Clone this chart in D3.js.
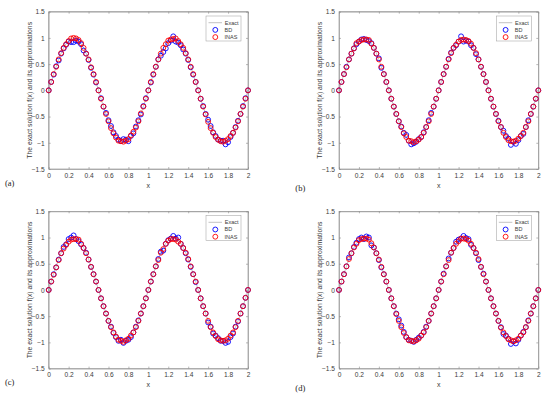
<!DOCTYPE html>
<html>
<head>
<meta charset="utf-8">
<script src="https://cdn.jsdelivr.net/npm/d3@7"></script>
<style>
	body { margin: 0; background: #fff; }
	text { font-family: "Liberation Sans", Arial, sans-serif; }
</style>
</head>
<body>
<div id="chart"></div>
<script>

// x grid shared by every panel
var xs = [0.000,
	0.025,0.050,0.075,0.100,0.125,0.150,0.175,0.200,0.225,0.250,0.275,0.300,0.325,0.350,0.375,0.400,0.425,0.450,0.475,0.500,
	0.525,0.550,0.575,0.600,0.625,0.650,0.675,0.700,0.725,0.750,0.775,0.800,0.825,0.850,0.875,0.900,0.925,0.950,0.975,1.000,
	1.025,1.050,1.075,1.100,1.125,1.150,1.175,1.200,1.225,1.250,1.275,1.300,1.325,1.350,1.375,1.400,1.425,1.450,1.475,1.500,
	1.525,1.550,1.575,1.600,1.625,1.650,1.675,1.700,1.725,1.750,1.775,1.800,1.825,1.850,1.875,1.900,1.925,1.950,1.975,2.000];

var exact = [0.00,
	0.16,0.31,0.45,0.59,0.71,0.81,0.89,0.95,0.99,1.00,0.99,0.95,0.89,0.81,0.71,0.59,0.45,0.31,0.16,0.00,
	-0.16,-0.31,-0.45,-0.59,-0.71,-0.81,-0.89,-0.95,-0.99,-1.00,-0.99,-0.95,-0.89,-0.81,-0.71,-0.59,-0.45,-0.31,-0.16,0.00,
	0.16,0.31,0.45,0.59,0.71,0.81,0.89,0.95,0.99,1.00,0.99,0.95,0.89,0.81,0.71,0.59,0.45,0.31,0.16,0.00,
	-0.16,-0.31,-0.45,-0.59,-0.71,-0.81,-0.89,-0.95,-0.99,-1.00,-0.99,-0.95,-0.89,-0.81,-0.71,-0.59,-0.45,-0.31,-0.16,0.00];

// panel (a)
var bd_a = [0.00,
	0.16,0.30,0.46,0.57,0.70,0.80,0.87,0.93,0.92,0.92,0.95,0.93,0.88,0.76,0.70,0.58,0.43,0.30,0.15,0.00,
	-0.15,-0.31,-0.43,-0.57,-0.68,-0.80,-0.87,-0.94,-0.97,-0.93,-0.94,-0.97,-0.87,-0.82,-0.69,-0.57,-0.46,-0.30,-0.15,0.00,
	0.15,0.30,0.45,0.59,0.66,0.73,0.80,0.90,0.95,1.03,0.93,0.91,0.86,0.78,0.70,0.58,0.44,0.30,0.16,0.00,
	-0.16,-0.30,-0.45,-0.56,-0.68,-0.80,-0.87,-0.94,-0.96,-0.96,-1.03,-0.99,-0.89,-0.81,-0.70,-0.58,-0.45,-0.30,-0.15,0.00];
var inas_a = [0.00,
	0.16,0.31,0.45,0.59,0.71,0.81,0.88,0.94,0.99,1.00,0.99,0.96,0.90,0.81,0.70,0.59,0.44,0.31,0.16,0.00,
	-0.16,-0.31,-0.45,-0.59,-0.72,-0.82,-0.90,-0.96,-0.97,-0.98,-0.96,-0.93,-0.86,-0.79,-0.71,-0.59,-0.44,-0.31,-0.16,0.00,
	0.16,0.31,0.45,0.59,0.70,0.81,0.88,0.95,0.97,0.98,0.99,0.94,0.88,0.81,0.71,0.59,0.45,0.31,0.16,0.00,
	-0.16,-0.31,-0.46,-0.60,-0.72,-0.81,-0.89,-0.94,-0.97,-0.98,-0.96,-0.93,-0.87,-0.81,-0.71,-0.59,-0.45,-0.31,-0.16,0.00];

// panel (b)
var bd_b = [0.00,
	0.16,0.31,0.45,0.59,0.70,0.80,0.88,0.93,0.97,0.98,0.96,0.94,0.90,0.81,0.70,0.61,0.43,0.31,0.16,0.00,
	-0.16,-0.31,-0.45,-0.59,-0.69,-0.81,-0.85,-0.96,-1.03,-1.01,-0.98,-0.93,-0.89,-0.80,-0.70,-0.57,-0.43,-0.31,-0.16,0.00,
	0.16,0.31,0.45,0.60,0.72,0.81,0.86,0.93,1.03,0.93,0.95,0.93,0.86,0.81,0.69,0.59,0.45,0.31,0.16,0.00,
	-0.16,-0.31,-0.45,-0.58,-0.70,-0.77,-0.87,-0.92,-1.04,-0.98,-1.02,-0.95,-0.87,-0.83,-0.70,-0.57,-0.45,-0.31,-0.16,0.00];
var inas_b = [0.00,
	0.16,0.31,0.44,0.59,0.70,0.80,0.90,0.93,0.96,0.97,0.97,0.96,0.89,0.81,0.70,0.59,0.45,0.31,0.16,0.00,
	-0.16,-0.31,-0.45,-0.59,-0.70,-0.82,-0.89,-0.96,-0.97,-0.99,-0.97,-0.94,-0.89,-0.81,-0.70,-0.59,-0.45,-0.31,-0.16,0.00,
	0.16,0.31,0.45,0.59,0.71,0.81,0.87,0.93,0.96,0.97,0.96,0.94,0.89,0.81,0.71,0.59,0.45,0.31,0.16,0.00,
	-0.16,-0.31,-0.45,-0.59,-0.70,-0.81,-0.89,-0.95,-0.97,-0.98,-0.96,-0.92,-0.87,-0.81,-0.70,-0.59,-0.45,-0.31,-0.16,0.00];

// panel (c)
var bd_c = [0.00,
	0.16,0.30,0.43,0.58,0.70,0.82,0.87,0.97,1.00,1.04,0.97,0.93,0.87,0.80,0.71,0.58,0.44,0.30,0.16,0.00,
	-0.16,-0.31,-0.45,-0.59,-0.70,-0.82,-0.90,-0.97,-0.95,-1.01,-0.97,-0.95,-0.90,-0.81,-0.70,-0.58,-0.45,-0.31,-0.16,0.00,
	0.16,0.30,0.45,0.59,0.73,0.75,0.88,0.95,0.98,1.03,0.98,1.00,0.88,0.80,0.70,0.58,0.44,0.30,0.15,0.00,
	-0.16,-0.31,-0.45,-0.62,-0.70,-0.83,-0.87,-0.92,-0.97,-0.97,-1.01,-0.99,-0.90,-0.83,-0.70,-0.60,-0.45,-0.31,-0.15,0.00];
var inas_c = [0.00,
	0.16,0.29,0.43,0.57,0.70,0.79,0.86,0.92,0.96,0.97,0.97,0.96,0.88,0.80,0.70,0.58,0.44,0.30,0.16,0.00,
	-0.16,-0.31,-0.45,-0.59,-0.71,-0.81,-0.89,-0.95,-0.97,-0.99,-0.96,-0.93,-0.87,-0.81,-0.71,-0.59,-0.45,-0.31,-0.16,0.00,
	0.16,0.30,0.45,0.57,0.71,0.78,0.88,0.94,0.97,0.97,0.96,0.92,0.88,0.80,0.71,0.59,0.45,0.30,0.16,0.00,
	-0.16,-0.31,-0.45,-0.59,-0.71,-0.81,-0.88,-0.94,-0.96,-0.97,-0.96,-0.93,-0.87,-0.81,-0.71,-0.59,-0.45,-0.31,-0.15,0.00];

// panel (d)
var bd_d = [0.00,
	0.16,0.30,0.45,0.62,0.70,0.82,0.90,0.97,1.00,0.97,1.02,1.00,0.85,0.81,0.70,0.57,0.43,0.30,0.16,0.00,
	-0.16,-0.31,-0.45,-0.56,-0.68,-0.80,-0.90,-0.95,-0.97,-0.99,-0.95,-0.91,-0.87,-0.80,-0.70,-0.59,-0.45,-0.31,-0.16,0.00,
	0.16,0.31,0.45,0.60,0.71,0.80,0.92,0.96,0.98,1.03,0.99,0.97,0.86,0.80,0.70,0.57,0.44,0.31,0.16,0.00,
	-0.16,-0.31,-0.45,-0.59,-0.71,-0.84,-0.87,-0.93,-1.03,-0.98,-1.02,-0.95,-0.87,-0.80,-0.71,-0.58,-0.45,-0.31,-0.16,0.00];
var inas_d = [0.00,
	0.16,0.30,0.45,0.59,0.70,0.81,0.88,0.95,0.97,0.98,0.98,0.96,0.89,0.81,0.70,0.58,0.44,0.30,0.16,0.00,
	-0.16,-0.31,-0.46,-0.59,-0.71,-0.82,-0.90,-0.96,-0.97,-0.98,-0.96,-0.93,-0.87,-0.81,-0.71,-0.59,-0.45,-0.31,-0.16,0.00,
	0.16,0.30,0.45,0.57,0.71,0.80,0.88,0.93,0.98,0.98,0.97,0.94,0.88,0.80,0.71,0.59,0.44,0.30,0.16,0.00,
	-0.16,-0.31,-0.45,-0.59,-0.72,-0.81,-0.88,-0.94,-0.96,-0.98,-0.96,-0.93,-0.87,-0.81,-0.71,-0.59,-0.45,-0.31,-0.16,0.00];

var xTicks = [0, 0.2, 0.4, 0.6, 0.8, 1, 1.2, 1.4, 1.6, 1.8, 2];
var yTicks = [-1.5, -1, -0.5, 0, 0.5, 1, 1.5];
var legendNames = ["Exact", "BD", "INAS"];
var panelLabels = ["(a)", "(b)", "(c)", "(d)"];

var panels = [
	{ label: panelLabels[0], bd: bd_a, inas: inas_a, ox: 0,     oy: 0,     ly: 186 },
	{ label: panelLabels[1], bd: bd_b, inas: inas_b, ox: 290.3, oy: 0,     ly: 191 },
	{ label: panelLabels[2], bd: bd_c, inas: inas_c, ox: 0,     oy: 199.6, ly: 185.5 },
	{ label: panelLabels[3], bd: bd_d, inas: inas_d, ox: 290.3, oy: 199.6, ly: 191.5 }
];

var W = 550, H = 398;
var plotLeft = 48.7, plotRight = 248, plotTop = 11.7, plotBottom = 169;
var axisColor = "#8a8a8a", textColor = "#3a3a3a";
var markerR = 2.45;

var svg = d3.select("#chart").append("svg")
	.attr("width", W)
	.attr("height", H);

var xScale = d3.scaleLinear().domain([0, 2]).range([plotLeft, plotRight]);
var yScale = d3.scaleLinear().domain([-1.5, 1.5]).range([plotBottom, plotTop]);

var exactLine = d3.line()
	.x(function(d, i) { return xScale(xs[i]); })
	.y(function(d) { return yScale(d); });

function drawPanel(p) {
	var g = svg.append("g").attr("transform", "translate(" + p.ox + "," + p.oy + ")");

	// box
	g.append("rect")
		.attr("x", plotLeft).attr("y", plotTop)
		.attr("width", plotRight - plotLeft).attr("height", plotBottom - plotTop)
		.attr("fill", "none").attr("stroke", axisColor).attr("stroke-width", 0.6);

	// axes, MATLAB style ticks pointing inwards
	var xAxis = d3.axisBottom(xScale).tickValues(xTicks).tickSizeInner(-2).tickSizeOuter(0).tickPadding(4)
		.tickFormat(d3.format("~g"));
	var yAxis = d3.axisLeft(yScale).tickValues(yTicks).tickSizeInner(-2).tickSizeOuter(0).tickPadding(4)
		.tickFormat(d3.format("~g"));

	var gx = g.append("g").attr("transform", "translate(0," + plotBottom + ")").call(xAxis);
	var gy = g.append("g").attr("transform", "translate(" + plotLeft + ",0)").call(yAxis);
	// mirrored ticks on top and right
	var gx2 = g.append("g").attr("transform", "translate(0," + plotTop + ")")
		.call(d3.axisTop(xScale).tickValues(xTicks).tickSizeInner(-2).tickSizeOuter(0).tickFormat(""));
	var gy2 = g.append("g").attr("transform", "translate(" + plotRight + ",0)")
		.call(d3.axisRight(yScale).tickValues(yTicks).tickSizeInner(-2).tickSizeOuter(0).tickFormat(""));

	[gx, gy, gx2, gy2].forEach(function(a) {
		a.select(".domain").attr("stroke", axisColor).attr("stroke-width", 0.6);
		a.selectAll(".tick line").attr("stroke", axisColor).attr("stroke-width", 0.6);
		a.selectAll(".tick text").attr("fill", textColor)
			.style("font-family", "'Liberation Sans', Arial, sans-serif").style("font-size", "6.6px");
	});
	gy.selectAll(".tick text").attr("dy", "0.34em");

	// axis titles
	g.append("text")
		.attr("x", (plotLeft + plotRight) / 2).attr("y", 187.5)
		.attr("text-anchor", "middle").attr("fill", textColor).style("font-size", "7px")
		.text("x");
	g.append("text")
		.attr("transform", "translate(32," + ((plotTop + plotBottom) / 2) + ") rotate(-90)")
		.attr("text-anchor", "middle").attr("fill", textColor).style("font-size", "6.8px")
		.text("The exact solution f(x) and its approximations");

	// panel label
	g.append("text")
		.attr("x", 5).attr("y", p.ly)
		.attr("fill", "#222").style("font-family", "'Liberation Serif', 'Times New Roman', serif").style("font-size", "8.5px")
		.text(p.label);

	// exact curve
	g.append("path")
		.datum(exact)
		.attr("d", exactLine)
		.attr("fill", "none").attr("stroke", "#9a9a9a").attr("stroke-width", 0.6);

	// BD markers
	g.append("g").selectAll("circle")
		.data(p.bd)
		.enter()
		.append("circle")
		.attr("cx", function(d, i) { return xScale(xs[i]); })
		.attr("cy", function(d) { return yScale(d); })
		.attr("r", markerR)
		.attr("fill", "none").attr("stroke", "#0000ff").attr("stroke-width", 0.9);

	// INAS markers
	g.append("g").selectAll("circle")
		.data(p.inas)
		.enter()
		.append("circle")
		.attr("cx", function(d, i) { return xScale(xs[i]); })
		.attr("cy", function(d) { return yScale(d); })
		.attr("r", markerR)
		.attr("fill", "none").attr("stroke", "#ff0000").attr("stroke-width", 0.9);

	// legend
	var lx = 206, ly = 16, lw = 35, lh = 25;
	var leg = g.append("g");
	leg.append("rect")
		.attr("x", lx).attr("y", ly).attr("width", lw).attr("height", lh)
		.attr("fill", "#fff").attr("stroke", "#9a9a9a").attr("stroke-width", 0.5);
	legendNames.forEach(function(name, i) {
		var yy = ly + 6.7 + i * 7.2;
		if (i == 0) {
			leg.append("line")
				.attr("x1", lx + 2.5).attr("x2", lx + 16).attr("y1", yy).attr("y2", yy)
				.attr("stroke", "#9a9a9a").attr("stroke-width", 0.6);
		} else {
			leg.append("circle")
				.attr("cx", lx + 9.3).attr("cy", yy).attr("r", markerR)
				.attr("fill", "none").attr("stroke", i == 1 ? "#0000ff" : "#ff0000").attr("stroke-width", 0.9);
		}
		leg.append("text")
			.attr("x", i == 0 ? lx + 32.5 : lx + 18.5).attr("y", yy).attr("dy", "0.35em")
			.attr("text-anchor", i == 0 ? "end" : "start")
			.attr("fill", textColor).style("font-size", "5.5px")
			.text(name);
	});
}

panels.forEach(drawPanel);

</script>
</body>
</html>
